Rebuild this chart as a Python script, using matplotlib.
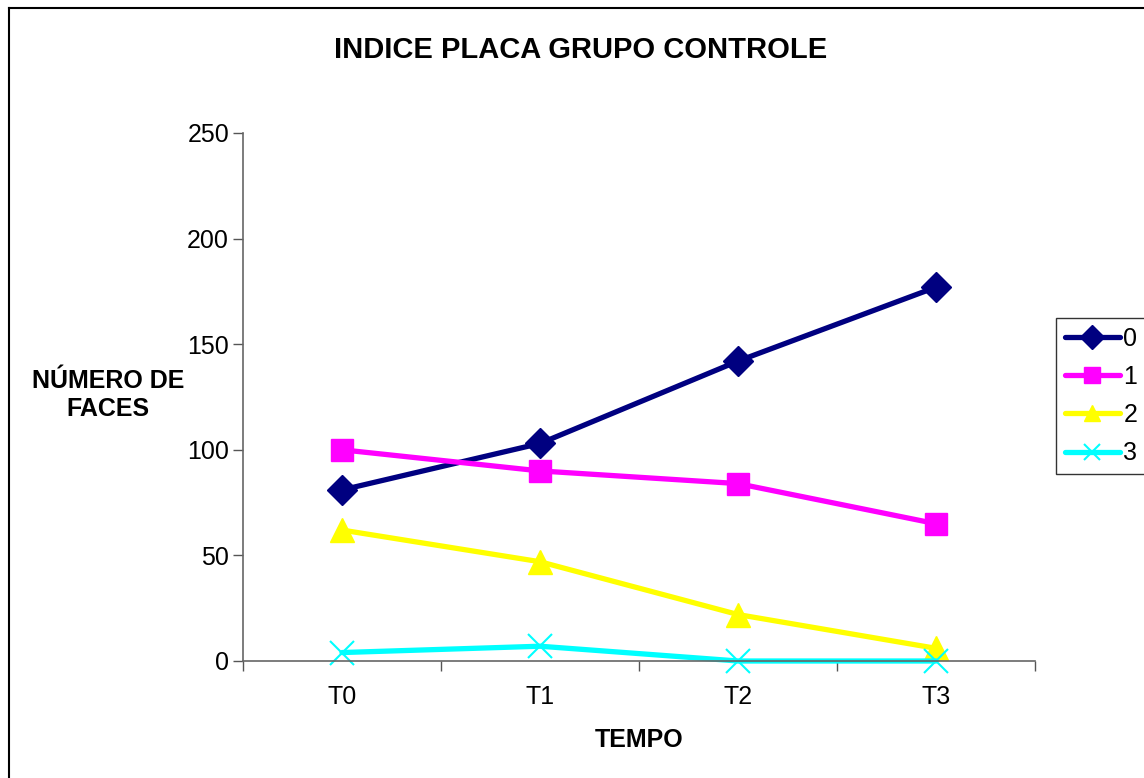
import matplotlib
matplotlib.use("Agg")
import matplotlib.pyplot as plt
from matplotlib.lines import Line2D

plt.rcParams["font.family"] = ["Liberation Sans", "DejaVu Sans"]

# index values per time point
tempos = ["T0", "T1", "T2", "T3"]
serie_0 = [81, 103, 142, 177]
serie_1 = [100, 90, 84, 65]
serie_2 = [62, 47, 22, 6]
serie_3 = [4, 7, 0, 0]
nomes = ["0", "1", "2", "3"]
y_ticks = [0, 50, 100, 150, 200, 250]

W, H = 1144, 778
fig = plt.figure(figsize=(W / 100, H / 100), dpi=100)
ax = fig.add_axes([243 / W, 1 - 661 / H, (1035 - 243) / W, (661 - 133) / H])

estilos = [
    dict(color="#000080", marker="D", markersize=15),
    dict(color="#FF00FF", marker="s", markersize=16),
    dict(color="#FFFF00", marker="^", markersize=17),
    dict(color="#00FFFF", marker="x", markersize=17, markeredgewidth=1.5),
]
x = list(range(len(tempos)))
handles = []
for vals, nome, st in zip([serie_0, serie_1, serie_2, serie_3], nomes, estilos):
    (ln,) = ax.plot(x, vals, linewidth=3.8, label=nome, clip_on=False,
                    solid_capstyle="round", **st)
    handles.append(ln)

ax.set_xlim(-0.5, 3.5)
ax.set_ylim(0, 250)
ax.set_yticks(y_ticks)
ax.set_xticks(x)
ax.set_xticklabels(tempos)
ax.set_xticks([-0.5, 0.5, 1.5, 2.5, 3.5], minor=True)
ax.tick_params(axis="x", which="major", length=0, pad=17, labelsize=18)
ax.tick_params(axis="x", which="minor", length=7, width=1, color="#555555")
ax.tick_params(axis="y", length=7, width=1, color="#555555", pad=3, labelsize=18)

for side in ("top", "right"):
    ax.spines[side].set_visible(False)
for side in ("left", "bottom"):
    ax.spines[side].set_color("#666666")
    ax.spines[side].set_linewidth(1.2)

fig.text(581 / W, 1 - 50 / H, "INDICE PLACA GRUPO CONTROLE", ha="center",
         va="center", fontsize=21, fontweight="bold")
fig.text(108 / W, 1 - 395 / H, "NÚMERO DE\nFACES", ha="center", va="center",
         fontsize=18, fontweight="bold", linespacing=1.25)
fig.text(639 / W, 1 - 740 / H, "TEMPO", ha="center", va="center",
         fontsize=18, fontweight="bold")

leg = fig.legend(handles=handles, loc="upper left",
                 bbox_to_anchor=(1056 / W, 1 - 318 / H), fontsize=18,
                 frameon=True, fancybox=False, edgecolor="black",
                 handlelength=2.2, handletextpad=0.15, borderpad=0.35,
                 labelspacing=0.57, borderaxespad=0)
leg.get_frame().set_linewidth(1.0)
for h in leg.legend_handles:
    h.set_markersize(12)

# outer chart border (top and left edges)
fig.add_artist(Line2D([8.5 / W, 8.5 / W], [0, 1 - 8 / H], color="black",
                      linewidth=1.5, transform=fig.transFigure))
fig.add_artist(Line2D([8.5 / W, 1], [1 - 8 / H, 1 - 8 / H], color="black",
                      linewidth=1.5, transform=fig.transFigure))

fig.savefig("out.png", dpi=100)
